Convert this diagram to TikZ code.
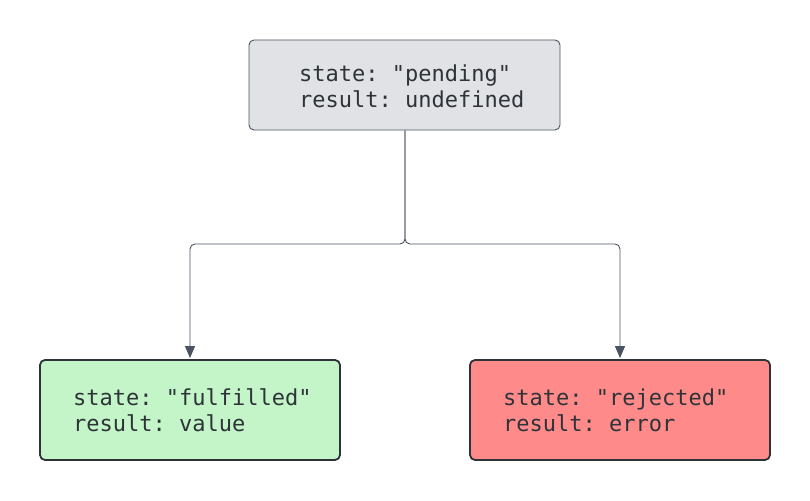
\documentclass[tikz,border=0pt]{standalone}
\usepackage{fontspec}
\setmonofont{DejaVu Sans Mono}
\usetikzlibrary{arrows.meta}
\definecolor{topfill}{HTML}{E0E2E6}
\definecolor{topdraw}{HTML}{4B5360}
\definecolor{okfill}{HTML}{C3F5C8}
\definecolor{errfill}{HTML}{FF8A8A}
\definecolor{boxdraw}{HTML}{2E3338}
\definecolor{txt}{HTML}{2E3338}
\definecolor{conn}{HTML}{4B5360}
\tikzset{
  x=1pt,y=1pt,
  statebox/.style={rounded corners=5pt, inner sep=0pt},
  lbl/.style={anchor=west, align=left, inner sep=0pt, text=txt,
    font=\fontsize{22}{26}\selectfont\ttfamily},
  conn/.style={draw=conn, line width=0.9pt, rounded corners=5pt,
    -{Triangle[length=12pt,width=10pt]}},
}
\begin{document}
\begin{tikzpicture}
\useasboundingbox (0,0) rectangle (810,500);
\node[statebox, draw=topdraw, line width=0.9pt, fill=topfill,
  minimum width=311pt, minimum height=90pt] (pend) at (404.5,415) {};
\node[statebox, draw=boxdraw, line width=1.8pt, fill=okfill,
  minimum width=300pt, minimum height=100pt] (ful) at (190,90) {};
\node[statebox, draw=boxdraw, line width=1.8pt, fill=errfill,
  minimum width=300pt, minimum height=100pt] (rej) at (620,90) {};
\node[lbl] (pendt) at (299,414) {state: "pending"\\result: undefined};
\node[lbl] (fult) at (73,90) {state: "fulfilled"\\result: value};
\node[lbl] (rejt) at (503,90) {state: "rejected"\\result: error};
\coordinate (j) at (405,256);
\draw[conn] (pend.south -| j) -- (j) -| ([yshift=1pt]ful.north);
\draw[conn] (pend.south -| j) -- (j) -| ([yshift=1pt]rej.north);
\end{tikzpicture}
\end{document}
